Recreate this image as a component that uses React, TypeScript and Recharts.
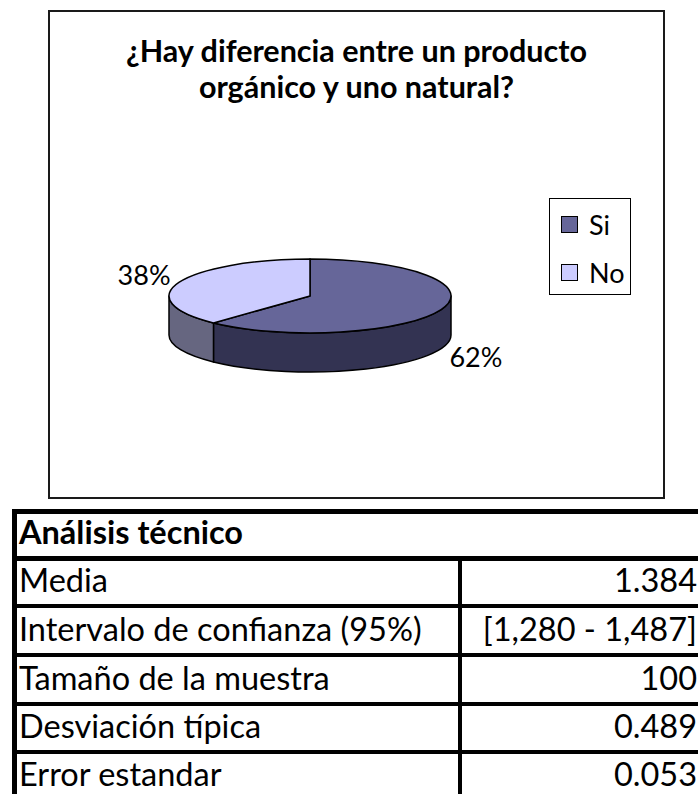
import React from 'react';
import { PieChart, Pie, Legend } from 'recharts';

// chart data
const CATEGORIES = ['Si', 'No'];
const PERCENTS = [62, 38];
const TITLE_LINES = ['¿Hay diferencia entre un producto', 'orgánico y uno natural?'];

// technical analysis table
const TABLE_TITLE = 'Análisis técnico';
const STAT_LABELS = [
  'Media',
  'Intervalo de confianza (95%)',
  'Tamaño de la muestra',
  'Desviación típica',
  'Error estandar',
];
const STAT_VALUES = ['1.384', '[1,280 - 1,487]', '100', '0.489', '0.053'];

const TOP_COLORS = ['#666699', '#CCCCFF'];
const SIDE_COLORS = ['#333352', '#666680'];

const FONT = 'Lato, Carlito, Calibri, sans-serif';
const RAD = Math.PI / 180;
const TILT = 0.262; // vertical squash of the pie
const DEPTH_RATIO = 0.277; // wall height relative to radius

const pieData = CATEGORIES.map((name, i) => ({ name, value: PERCENTS[i] }));

const onEllipse = (cx: number, cy: number, rx: number, ry: number, angle: number) => [
  cx + rx * Math.cos(-angle * RAD),
  cy + ry * Math.sin(-angle * RAD),
];

// draws a 3D wedge from the angles Recharts computes for each sector
const renderSlice = (props: any) => {
  const { cx, cy, outerRadius, startAngle, endAngle, midAngle, percent, index } = props;
  const rx = outerRadius;
  const ry = outerRadius * TILT;
  const depth = outerRadius * DEPTH_RATIO;

  const [x1, y1] = onEllipse(cx, cy, rx, ry, startAngle);
  const [x2, y2] = onEllipse(cx, cy, rx, ry, endAngle);
  const large = Math.abs(startAngle - endAngle) > 180 ? 1 : 0;
  const top = `M${cx},${cy} L${x1},${y1} A${rx},${ry} 0 ${large} 1 ${x2},${y2} Z`;

  // visible front wall is the lower half of the ellipse
  const hi = Math.min(startAngle, 0);
  const lo = Math.max(endAngle, -180);
  let wall = '';
  if (hi > lo) {
    const [a1x, a1y] = onEllipse(cx, cy, rx, ry, hi);
    const [a2x, a2y] = onEllipse(cx, cy, rx, ry, lo);
    wall =
      `M${a1x},${a1y} A${rx},${ry} 0 0 1 ${a2x},${a2y} ` +
      `L${a2x},${a2y + depth} A${rx},${ry} 0 0 0 ${a1x},${a1y + depth} Z`;
  }

  const cos = Math.cos(-midAngle * RAD);
  const sin = Math.sin(-midAngle * RAD);
  const lx = cx + (rx + 9) * cos;
  const ly = cy + (ry + 21) * sin + (sin > 0 ? depth : 0);

  return (
    <g key={`slice-${index}`}>
      {wall && <path d={wall} fill={SIDE_COLORS[index]} stroke="#000" strokeWidth={1.5} strokeLinejoin="round" />}
      <path d={top} fill={TOP_COLORS[index]} stroke="#000" strokeWidth={1.5} strokeLinejoin="round" />
      <text
        x={lx}
        y={ly}
        textAnchor={cos >= 0 ? 'start' : 'end'}
        dominantBaseline="central"
        fontFamily={FONT}
        fontSize={27}
        fill="#000"
      >
        {`${Math.round(percent * 100)}%`}
      </text>
    </g>
  );
};

// legend keeps the data order (Recharts 3 would sort it by name)
const renderLegend = () => (
  <div
    style={{
      position: 'relative',
      width: 82,
      height: 97,
      boxSizing: 'border-box',
      border: '1.5px solid #000',
      background: '#fff',
      fontFamily: FONT,
      fontSize: 27,
    }}
  >
    {CATEGORIES.map((name, i) => (
      <React.Fragment key={name}>
        <div
          style={{
            position: 'absolute',
            left: 11,
            top: 17 + i * 48,
            width: 17,
            height: 17,
            boxSizing: 'border-box',
            border: '1px solid #000',
            background: TOP_COLORS[i],
          }}
        />
        <div style={{ position: 'absolute', left: 39, top: 8 + i * 48, lineHeight: '36px', color: '#000' }}>
          {name}
        </div>
      </React.Fragment>
    ))}
  </div>
);

const ROW_LINES = [604, 653, 702, 750];
const TABLE_FONT = 32.5;

const App: React.FC = () => {
  const rowBottoms = [...ROW_LINES, 798];

  const cellText = (bottom: number): React.CSSProperties => ({
    position: 'absolute',
    top: bottom - 11 - 0.9 * TABLE_FONT,
    lineHeight: `${TABLE_FONT}px`,
    fontFamily: FONT,
    fontSize: TABLE_FONT,
    color: '#000',
    whiteSpace: 'nowrap',
  });

  return (
    <div style={{ position: 'absolute', left: 0, top: 0, width: 698, height: 794, overflow: 'hidden', background: '#fff' }}>
      {/* chart frame */}
      <div
        style={{
          position: 'absolute',
          left: 48,
          top: 10,
          width: 617,
          height: 489,
          boxSizing: 'border-box',
          border: '2px solid #1a1a1a',
        }}
      />
      <div
        style={{
          position: 'absolute',
          left: 48,
          top: 32,
          width: 617,
          textAlign: 'center',
          fontFamily: FONT,
          fontWeight: 700,
          fontSize: 30.5,
          lineHeight: '36px',
          color: '#000',
        }}
      >
        {TITLE_LINES.map((t) => (
          <div key={t}>{t}</div>
        ))}
      </div>

      <div style={{ position: 'absolute', left: 0, top: 0 }}>
        <PieChart width={698} height={505} margin={{ top: 0, right: 0, bottom: 0, left: 0 }}>
          <Pie
            data={pieData}
            dataKey="value"
            nameKey="name"
            cx={310}
            cy={296}
            outerRadius={141}
            startAngle={90}
            endAngle={-270}
            fill="none"
            stroke="none"
            label={renderSlice}
            labelLine={false}
            isAnimationActive={false}
          />
          <Legend
            layout="vertical"
            align="right"
            verticalAlign="middle"
            content={renderLegend}
            wrapperStyle={{ position: 'absolute', left: 549, top: 198, width: 82, height: 97 }}
          />
        </PieChart>
      </div>

      {/* table */}
      <div style={{ position: 'absolute', left: 12, top: 509, width: 5, height: 300, background: '#000' }} />
      <div style={{ position: 'absolute', left: 12, top: 509, width: 700, height: 5, background: '#000' }} />
      <div style={{ position: 'absolute', left: 12, top: 556, width: 700, height: 5, background: '#000' }} />
      {ROW_LINES.map((y) => (
        <div key={y} style={{ position: 'absolute', left: 12, top: y, width: 700, height: 4, background: '#000' }} />
      ))}
      <div style={{ position: 'absolute', left: 458, top: 556, width: 4, height: 260, background: '#000' }} />

      <div style={{ ...cellText(556), left: 19, fontWeight: 700 }}>{TABLE_TITLE}</div>
      {STAT_LABELS.map((label, i) => (
        <React.Fragment key={label}>
          <div style={{ ...cellText(rowBottoms[i]), left: 19 }}>{label}</div>
          <div style={{ ...cellText(rowBottoms[i]), right: 1, textAlign: 'right' }}>{STAT_VALUES[i]}</div>
        </React.Fragment>
      ))}
    </div>
  );
};

export default App;
